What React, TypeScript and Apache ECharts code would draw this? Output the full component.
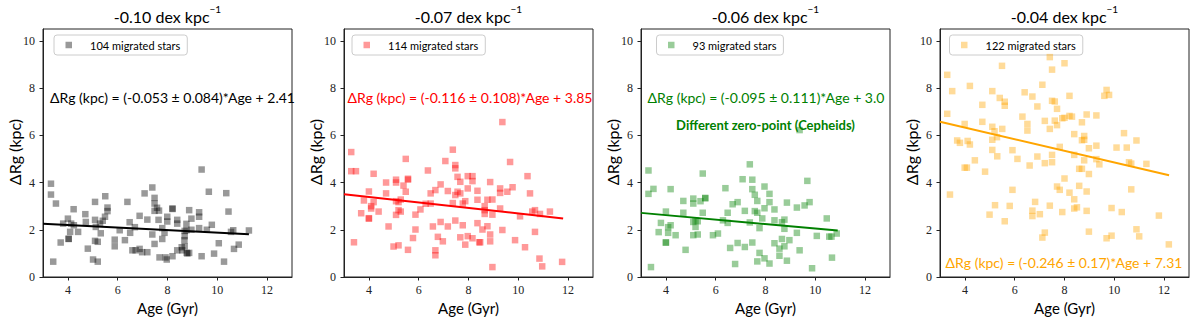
import React, { useEffect, useRef } from "react";
import * as echarts from "echarts";

// ---------------- data ----------------
const panelTitles = ["-0.10 dex kpc", "-0.07 dex kpc", "-0.06 dex kpc", "-0.04 dex kpc"];
const legendLabels = ["104 migrated stars", "114 migrated stars", "93 migrated stars", "122 migrated stars"];
const equationTexts = [
  "ΔRg (kpc) = (-0.053 ± 0.084)*Age + 2.41",
  "ΔRg (kpc) = (-0.116 ± 0.108)*Age + 3.85",
  "ΔRg (kpc) = (-0.095 ± 0.111)*Age + 3.0",
  "ΔRg (kpc) = (-0.246 ± 0.17)*Age + 7.31",
];
const noteText = "Different zero-point (Cepheids)";
const fitSlopes = [-0.053, -0.116, -0.095, -0.246];
const fitIntercepts = [2.41, 3.85, 3.0, 7.31];
const fitStartAge = [3, 3, 3, 3];
const fitEndAge = [11.27, 11.8, 10.9, 12.2];
const xTickValues = [4, 6, 8, 10, 12];
const yTickValues = [0, 2, 4, 6, 8, 10];
const xLabel = "Age (Gyr)";
const yLabel = "ΔRg (kpc)";

const stars1: [number, number][] = [
  [3.32, 3.95], [3.32, 3.49], [3.52, 3.11], [3.41, 0.65], [3.71, 1.46], [3.81, 2.26], [4.0, 2.47], [4.03, 1.61],
  [4.03, 1.62], [4.09, 1.91], [4.13, 2.26], [4.23, 2.87], [4.24, 2.19], [4.41, 1.91], [4.7, 2.66], [4.72, 2.33],
  [4.8, 1.2], [5.01, 0.74], [5.09, 3.18], [5.09, 2.42], [5.12, 2.12], [5.09, 1.53], [5.2, 1.49], [5.2, 0.65],
  [5.29, 2.26], [5.32, 1.85], [5.4, 2.38], [5.49, 2.55], [5.5, 3.42], [5.59, 2.79], [5.59, 2.94], [5.88, 1.58],
  [5.88, 1.3], [6.08, 1.98], [6.29, 1.56], [6.39, 3.18], [6.48, 2.32], [6.5, 1.87], [6.59, 1.13], [6.69, 2.11],
  [6.72, 1.13], [6.88, 2.59], [6.88, 1.19], [6.98, 1.05], [7.08, 3.54], [7.19, 2.43], [7.19, 1.05], [7.39, 3.79],
  [7.39, 1.8], [7.48, 3.35], [7.48, 3.11], [7.48, 2.8], [7.48, 1.4], [7.58, 2.93], [7.66, 2.81], [7.64, 2.42],
  [7.68, 0.83], [7.79, 2.07], [7.79, 1.61], [7.88, 1.87], [7.92, 0.83], [7.99, 2.55], [7.99, 2.35], [7.97, 0.74],
  [8.2, 2.9], [8.2, 2.88], [8.2, 0.88], [8.39, 2.42], [8.39, 2.26], [8.39, 1.13], [8.57, 1.26], [8.59, 1.13],
  [8.69, 1.95], [8.69, 1.73], [8.68, 1.56], [8.69, 1.3], [8.76, 1.98], [8.76, 2.25], [8.77, 1.02], [8.8, 1.0],
  [8.87, 2.83], [8.87, 1.02], [8.96, 2.47], [8.96, 2.0], [9.27, 2.74], [9.27, 2.55], [9.27, 2.07], [9.37, 4.55],
  [9.37, 0.88], [9.58, 2.0], [9.66, 3.61], [9.78, 2.21], [9.87, 0.99], [10.06, 1.43], [10.27, 0.65], [10.36, 3.55],
  [10.45, 2.77], [10.55, 1.91], [10.64, 1.98], [10.67, 1.19], [10.86, 1.37], [11.27, 1.97],
];

const stars2: [number, number][] = [
  [3.29, 5.29], [3.29, 4.48], [3.48, 4.48], [3.4, 1.47], [3.69, 2.7], [3.8, 3.24], [4.0, 3.62], [4.0, 2.49],
  [4.0, 2.47], [4.09, 3.0], [4.09, 2.9], [4.19, 3.17], [4.19, 4.37], [4.39, 2.77], [4.69, 4.0], [4.69, 3.54],
  [4.79, 2.14], [4.99, 1.29], [5.09, 4.12], [5.09, 4.0], [5.09, 3.21], [5.09, 2.63], [5.19, 3.17], [5.19, 2.83],
  [5.19, 1.34], [5.28, 3.28], [5.28, 2.77], [5.39, 3.87], [5.48, 5.0], [5.48, 3.61], [5.57, 4.16], [5.57, 4.12],
  [5.57, 1.15], [5.77, 1.65], [5.87, 2.64], [5.87, 2.01], [6.07, 2.86], [6.28, 3.1], [6.37, 4.51], [6.48, 3.11],
  [6.48, 3.54], [6.57, 2.14], [6.67, 3.68], [6.67, 1.13], [6.67, 0.92], [6.77, 1.7], [6.88, 3.92], [6.88, 2.33],
  [6.97, 1.51], [7.07, 4.91], [7.17, 3.64], [7.17, 2.14], [7.37, 5.39], [7.37, 3.13], [7.47, 4.74], [7.47, 4.6],
  [7.47, 3.47], [7.47, 2.39], [7.56, 4.24], [7.56, 3.61], [7.67, 3.54], [7.67, 4.03], [7.67, 1.68], [7.77, 2.19],
  [7.77, 3.11], [7.87, 3.21], [7.87, 1.37], [7.97, 4.27], [7.97, 3.75], [7.97, 1.73], [8.16, 4.27], [8.16, 4.06],
  [8.16, 1.64], [8.36, 3.65], [8.36, 3.27], [8.36, 2.28], [8.43, 1.47], [8.47, 1.47], [8.56, 2.01], [8.65, 3.0],
  [8.65, 2.83], [8.65, 2.67], [8.76, 3.27], [8.76, 2.15], [8.87, 4.02], [8.87, 1.8], [8.87, 1.51], [8.96, 3.28],
  [8.96, 2.64], [8.96, 0.42], [9.27, 3.75], [9.27, 3.56], [9.27, 2.9], [9.36, 6.56], [9.36, 1.99], [9.56, 3.61],
  [9.67, 4.87], [9.77, 3.8], [9.87, 1.56], [10.07, 2.57], [10.27, 1.26], [10.37, 4.27], [10.47, 3.54], [10.56, 2.77],
  [10.67, 1.91], [10.67, 2.83], [10.87, 2.67], [10.85, 0.78], [10.96, 0.45], [11.27, 2.77], [11.76, 0.64],
];

const stars3: [number, number][] = [
  [3.3, 4.51], [3.3, 3.52], [3.5, 3.73], [3.4, 0.42], [3.71, 1.9], [3.8, 2.29], [4.0, 2.77], [4.0, 1.47],
  [4.0, 1.45], [4.09, 2.11], [4.09, 1.87], [4.19, 2.19], [4.19, 3.72], [4.39, 1.77], [4.7, 3.22], [4.7, 2.72],
  [4.79, 1.15], [5.1, 3.32], [5.1, 3.11], [5.1, 2.33], [5.1, 1.77], [5.19, 2.12], [5.19, 2.39], [5.28, 1.8],
  [5.28, 2.36], [5.39, 3.21], [5.48, 4.38], [5.48, 2.72], [5.58, 3.35], [5.58, 3.33], [5.89, 1.77], [6.09, 1.84],
  [6.29, 2.4], [6.39, 3.76], [6.48, 2.72], [6.48, 2.29], [6.58, 1.23], [6.68, 3.08], [6.78, 0.55], [6.88, 3.17],
  [6.88, 1.44], [7.08, 4.14], [7.17, 2.8], [7.17, 1.27], [7.37, 4.77], [7.37, 2.31], [7.47, 4.12], [7.47, 3.72],
  [7.47, 1.46], [7.57, 3.48], [7.57, 2.79], [7.67, 3.22], [7.67, 2.72], [7.67, 0.66], [7.76, 2.07], [7.76, 1.02],
  [7.87, 2.48], [7.96, 3.83], [7.96, 2.91], [7.96, 0.79], [8.16, 3.17], [8.16, 3.52], [8.16, 0.57], [8.36, 2.86],
  [8.36, 2.4], [8.36, 1.43], [8.56, 1.2], [8.56, 0.9], [8.66, 2.32], [8.66, 1.61], [8.76, 2.43], [8.76, 2.04],
  [8.76, 1.3], [8.86, 3.15], [8.86, 0.69], [8.96, 1.56], [9.26, 2.94], [9.26, 1.87], [9.37, 6.22], [9.37, 1.13],
  [9.57, 3.03], [9.68, 4.07], [9.77, 3.17], [9.87, 0.37], [10.06, 1.74], [10.46, 2.48], [10.56, 1.71], [10.65, 1.71],
  [10.67, 0.82], [10.86, 1.84],
];

const stars4: [number, number][] = [
  [3.29, 8.56], [3.29, 6.91], [3.49, 7.87], [3.4, 3.49], [3.69, 5.78], [3.8, 5.68], [3.99, 6.48], [3.99, 4.63],
  [4.08, 4.63], [4.11, 5.76], [4.2, 8.09], [4.2, 5.61], [4.4, 4.94], [4.7, 7.29], [4.7, 6.57], [4.81, 4.46],
  [4.99, 2.64], [5.1, 7.87], [5.1, 6.36], [5.1, 5.81], [5.1, 5.38], [5.19, 6.17], [5.21, 3.04], [5.29, 5.92],
  [5.3, 5.11], [5.4, 7.58], [5.49, 8.94], [5.5, 6.27], [5.6, 7.42], [5.6, 7.25], [5.6, 2.36], [5.8, 3.01],
  [5.91, 5.37], [5.91, 3.69], [6.11, 5.0], [6.31, 6.79], [6.4, 7.82], [6.51, 6.48], [6.51, 6.2], [6.6, 4.72],
  [6.71, 7.64], [6.71, 2.81], [6.71, 2.58], [6.82, 3.18], [6.91, 7.22], [6.91, 5.1], [7.01, 2.66], [7.11, 8.14],
  [7.11, 1.67], [7.21, 6.61], [7.21, 4.82], [7.21, 1.88], [7.41, 9.31], [7.41, 6.27], [7.41, 3.02], [7.5, 8.78],
  [7.5, 7.46], [7.5, 5.17], [7.5, 4.86], [7.61, 7.43], [7.61, 6.62], [7.7, 7.12], [7.7, 6.43], [7.7, 3.83],
  [7.81, 5.51], [7.81, 3.69], [7.91, 2.75], [7.91, 6.72], [8.0, 9.05], [8.0, 6.74], [8.0, 4.17], [8.2, 7.67],
  [8.2, 6.82], [8.2, 3.57], [8.3, 6.79], [8.39, 6.05], [8.39, 5.17], [8.39, 3.29], [8.39, 2.9], [8.5, 2.95],
  [8.59, 3.86], [8.59, 4.58], [8.7, 4.58], [8.7, 6.55], [8.7, 5.79], [8.79, 5.81], [8.79, 5.97], [8.79, 4.94],
  [8.89, 6.88], [8.89, 3.62], [8.89, 2.8], [8.98, 5.45], [8.98, 4.36], [8.98, 1.92], [9.28, 5.56], [9.28, 6.84],
  [9.28, 4.99], [9.4, 4.77], [9.6, 7.67], [9.69, 7.92], [9.69, 1.64], [9.79, 7.71], [9.89, 1.75], [9.89, 2.92],
  [10.09, 5.48], [10.3, 2.75], [10.39, 6.09], [10.5, 5.48], [10.59, 4.86], [10.68, 4.8], [10.68, 3.71], [10.89, 5.78],
  [10.89, 2.02], [11.0, 1.72], [11.29, 4.79], [11.79, 2.6], [12.19, 1.38],
];

const starSets = [stars1, stars2, stars3, stars4];

// ---------------- layout / style ----------------
const panelColors = ["#000000", "#ff0000", "#008000", "#ffa500"];
const gridLefts = [43, 344, 641, 940];
const gridTop = 29;
const gridWidth = 249;
const gridHeight = 248;
const legendOffsets = [11, 8, 15.5, 9.5];
const eqCenters = [172.5, 470, 766, 1064];
const eqY = [97, 97, 97, 262];
const SANS = "Lato, DejaVu Sans, sans-serif";
const SERIF = "Liberation Serif, DejaVu Serif, serif";
const FRAME = "#222222";

export default function App() {
  const ref = useRef<HTMLDivElement | null>(null);

  useEffect(() => {
    if (!ref.current) return;
    const chart = echarts.init(ref.current, undefined, { renderer: "svg" });

    const canvas = document.createElement("canvas");
    const ctx = canvas.getContext("2d");
    const measure = (t: string, font: string) => {
      if (!ctx) return t.length * 5.5;
      ctx.font = font;
      return ctx.measureText(t).width;
    };

    const grids = gridLefts.map((l) => ({
      left: l,
      top: gridTop,
      width: gridWidth,
      height: gridHeight,
      show: true,
      borderColor: FRAME,
      borderWidth: 1,
      backgroundColor: "transparent",
      containLabel: false,
    }));

    const tickLabelStyle = {
      fontFamily: SERIF,
      fontSize: 12,
      color: "#222222",
    };

    const xAxes = gridLefts.map((_, i) => ({
      gridIndex: i,
      type: "value",
      min: 3,
      max: 13,
      axisLine: { show: true, onZero: false, lineStyle: { color: FRAME, width: 1 } },
      axisTick: { show: true, length: 3.5, customValues: xTickValues, lineStyle: { color: FRAME } },
      axisLabel: { customValues: xTickValues, margin: 7, ...tickLabelStyle, textStyle: tickLabelStyle },
      splitLine: { show: false },
    }));

    const yAxes = gridLefts.map((_, i) => ({
      gridIndex: i,
      type: "value",
      min: 0,
      max: 10.5,
      axisLine: { show: true, onZero: false, lineStyle: { color: FRAME, width: 1 } },
      axisTick: { show: true, length: 3.5, customValues: yTickValues, lineStyle: { color: FRAME } },
      axisLabel: { customValues: yTickValues, margin: 8, ...tickLabelStyle },
      splitLine: { show: false },
    }));

    const series: any[] = [];
    starSets.forEach((stars, i) => {
      series.push({
        type: "scatter",
        name: legendLabels[i],
        xAxisIndex: i,
        yAxisIndex: i,
        data: stars,
        symbol: "rect",
        symbolSize: 6.5,
        itemStyle: { color: panelColors[i], opacity: 0.4 },
        silent: true,
        z: 2,
      });
      series.push({
        type: "line",
        xAxisIndex: i,
        yAxisIndex: i,
        data: [
          [fitStartAge[i], fitIntercepts[i] + fitSlopes[i] * fitStartAge[i]],
          [fitEndAge[i], fitIntercepts[i] + fitSlopes[i] * fitEndAge[i]],
        ],
        symbol: "none",
        showSymbol: false,
        lineStyle: { color: panelColors[i], width: 2 },
        silent: true,
        z: 3,
      });
    });

    const graphics: any[] = [];
    gridLefts.forEach((l, i) => {
      const cx = l + gridWidth / 2;
      // title
      graphics.push({
        type: "text",
        x: cx,
        y: 16,
        style: {
          text: `{m|${panelTitles[i]}}{s|−1}`,
          rich: {
            m: { fontSize: 16, fontFamily: SANS, fill: "#000", lineHeight: 24 },
            s: { fontSize: 10, fontFamily: SANS, fill: "#000", lineHeight: 10, verticalAlign: "top" },
          },
          align: "center",
          verticalAlign: "middle",
          textAlign: "center",
          textVerticalAlign: "middle",
        },
      });
      // x label
      graphics.push({
        type: "text",
        x: cx,
        y: 308,
        style: {
          text: xLabel, fontSize: 15, fontFamily: SANS, fill: "#000",
          align: "center", verticalAlign: "middle", textAlign: "center", textVerticalAlign: "middle",
        },
      });
      // y label
      graphics.push({
        type: "text",
        x: l - 29,
        y: gridTop + gridHeight / 2 - 1,
        rotation: Math.PI / 2,
        style: {
          text: yLabel, fontSize: 16, fontFamily: SANS, fill: "#000",
          align: "center", verticalAlign: "middle", textAlign: "center", textVerticalAlign: "middle",
        },
      });
      // legend box
      const lx = l + legendOffsets[i];
      const legendFont = `11px ${SANS}`;
      const tw = measure(legendLabels[i], legendFont);
      graphics.push({
        type: "group",
        x: lx,
        y: 35,
        children: [
          {
            type: "rect",
            shape: { x: 0, y: 0, width: 36 + tw + 7, height: 20, r: 3 },
            style: { fill: "rgba(255,255,255,0.8)", stroke: "#cccccc", lineWidth: 1 },
          },
          {
            type: "rect",
            shape: { x: 11.5, y: 6.75, width: 6.5, height: 6.5 },
            style: { fill: panelColors[i], opacity: 0.4 },
          },
          {
            type: "text",
            x: 36,
            y: 10.5,
            style: {
              text: legendLabels[i], fontSize: 11, fontFamily: SANS, fill: "#000",
              align: "left", verticalAlign: "middle", textAlign: "left", textVerticalAlign: "middle",
            },
          },
        ],
      });
      // equation
      graphics.push({
        type: "text",
        x: eqCenters[i],
        y: eqY[i],
        style: {
          text: equationTexts[i], fontSize: 14, fontFamily: SANS, fill: panelColors[i],
          align: "center", verticalAlign: "middle", textAlign: "center", textVerticalAlign: "middle",
        },
      });
    });
    graphics.push({
      type: "text",
      x: gridLefts[2] + gridWidth / 2,
      y: 125,
      style: {
        text: noteText, fontSize: 13, fontWeight: "bold", fontFamily: SANS, fill: panelColors[2],
        align: "center", verticalAlign: "middle", textAlign: "center", textVerticalAlign: "middle",
      },
    });

    chart.setOption({
      animation: false,
      backgroundColor: "#ffffff",
      grid: grids,
      xAxis: xAxes,
      yAxis: yAxes,
      series,
      graphic: { elements: graphics },
    });

    return () => {
      chart.dispose();
    };
  }, []);

  return (
    <div
      ref={ref}
      style={{ position: "absolute", left: 0, top: 0, width: 1200, height: 326, background: "#fff" }}
    />
  );
}
